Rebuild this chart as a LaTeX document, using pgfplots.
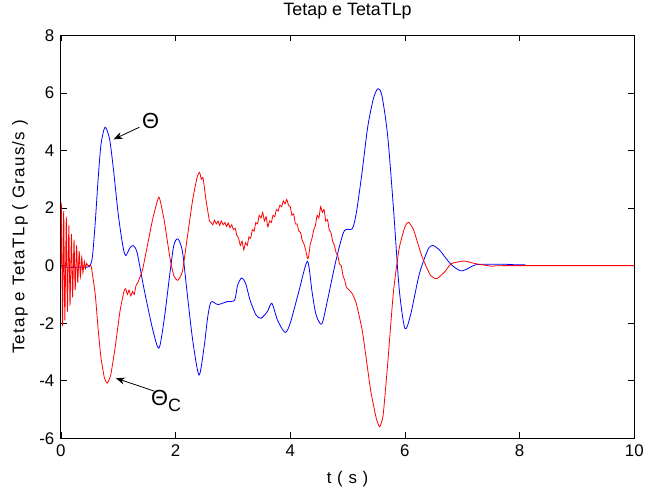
\documentclass[border=0pt]{standalone}
\usepackage{fontspec}
\setmainfont{Liberation Sans}
\usepackage{pgfplots}
\pgfplotsset{compat=1.18}
\usetikzlibrary{calc,arrows.meta}

\begin{document}
\begin{tikzpicture}
\begin{axis}[
    name=ax,
    scale only axis,
    width=575bp, height=404bp,
    xmin=0, xmax=10, ymin=-6, ymax=8,
    xtick={0,2,...,10}, ytick={-6,-4,...,8},
    tick align=inside,
    major tick length=6bp,
    tick style={black, line width=0.6bp},
    axis line style={black, line width=0.8bp},
    tick label style={font=\fontsize{17}{19}\selectfont},
    xticklabel style={yshift=-3bp},
    yticklabel style={xshift=-3bp},
    /pgf/number format/assume math mode=true,
    title={Tetap e TetaTLp},
    title style={font=\fontsize{18}{20}\selectfont, at={(axis description cs:0.5,1.045)}, anchor=center},
    xlabel={t ( s )},
    xlabel style={font=\fontsize{17}{19}\selectfont\addfontfeature{LetterSpace=6}, at={(axis description cs:0.5,-0.101)}, anchor=center},
    ylabel={Tetap e TetaTLp ( Graus/s )},
    ylabel style={font=\fontsize{17}{19}\selectfont\addfontfeature{LetterSpace=8}, at={(axis description cs:-0.0713,0.5)}, anchor=center, rotate=0},
    clip=true,
]
% Theta (blue)
\addplot[blue, line width=0.8bp, smooth, tension=0.45] coordinates {
(0,-0.05) (0.2,-0.06) (0.4,-0.05) (0.5,-0.03) (0.55,0.3) (0.6,1.5) (0.65,3.0)
(0.7,4.2) (0.77,4.81) (0.85,4.4) (0.92,3.3) (1.0,1.8) (1.08,0.7) (1.13,0.35)
(1.2,0.6) (1.26,0.70) (1.33,0.45) (1.45,-0.8) (1.6,-2.2) (1.71,-2.87)
(1.8,-1.9) (1.9,-0.3) (1.97,0.7) (2.04,0.93) (2.12,0.5) (2.2,-0.9)
(2.3,-2.6) (2.41,-3.8) (2.5,-2.8) (2.56,-1.8) (2.62,-1.26) (2.74,-1.35)
(2.9,-1.25) (3.03,-1.2) (3.08,-0.7) (3.15,-0.43) (3.22,-0.6) (3.3,-1.2)
(3.4,-1.7) (3.49,-1.83) (3.6,-1.6) (3.68,-1.31) (3.78,-1.9) (3.91,-2.32)
(4.0,-2.0) (4.15,-0.9) (4.30,0.15) (4.38,-0.9) (4.45,-1.7) (4.55,-2.03)
(4.65,-1.2) (4.8,0.2) (4.94,1.2) (5.08,1.28) (5.15,1.8) (5.25,3.2)
(5.35,4.8) (5.45,5.8) (5.53,6.15) (5.6,5.9) (5.7,4.5) (5.8,2.0)
(5.9,-0.8) (6.0,-2.18) (6.1,-1.7) (6.25,-0.3) (6.4,0.55) (6.48,0.70)
(6.6,0.55) (6.8,0.05) (6.97,-0.18) (7.1,-0.1) (7.23,0.03) (7.5,0.05)
(7.72,0.05) (7.94,0.03) (8.1,0.03)
};
% Theta_C (red)
\addplot[red, line width=0.8bp, smooth, tension=0.3] coordinates {
(0,0) (0.01,2.1) (0.03,-2.1) (0.05,1.9) (0.07,-1.9) (0.095,1.7) (0.115,-1.6)
(0.14,1.4) (0.16,-1.4) (0.185,1.1) (0.205,-1.1) (0.23,0.9) (0.25,-0.85)
(0.275,0.7) (0.295,-0.6) (0.32,0.5) (0.34,-0.4) (0.365,0.3) (0.385,-0.25)
(0.41,0.15) (0.43,-0.1) (0.45,0.08) (0.47,0.0) (0.5,0.0) (0.53,-0.03)
(0.6,-1.0) (0.65,-2.2) (0.7,-3.2) (0.76,-3.9) (0.81,-4.08) (0.87,-3.8)
(0.95,-2.8) (1.03,-1.6) (1.1,-0.9) (1.13,-0.8) (1.16,-1.0) (1.19,-0.85)
(1.22,-1.05) (1.25,-0.9) (1.28,-1.0) (1.31,-0.7) (1.34,-0.6) (1.37,-0.45)
(1.4,-0.3) (1.43,-0.1) (1.5,0.6) (1.6,1.6) (1.71,2.38) (1.8,1.6)
(1.9,0.3) (1.97,-0.35) (2.04,-0.51) (2.12,-0.2) (2.2,0.9) (2.3,2.3)
(2.38,3.1) (2.42,3.24) (2.45,3.0) (2.48,3.05) (2.53,2.3) (2.59,1.57)
(2.62,1.50) (2.65,1.42) (2.68,1.58) (2.71,1.45) (2.74,1.55) (2.77,1.40)
(2.80,1.55) (2.83,1.42) (2.86,1.50) (2.89,1.36) (2.92,1.48) (2.95,1.32)
(2.98,1.42) (3.01,1.25) (3.04,1.30) (3.07,1.05) (3.10,0.95) (3.13,0.70)
(3.16,0.85) (3.19,0.55) (3.22,0.80) (3.25,0.70) (3.28,1.00) (3.31,0.95)
(3.34,1.25) (3.37,1.20) (3.40,1.50) (3.43,1.45) (3.46,1.75) (3.49,1.65)
(3.52,1.85) (3.55,1.55) (3.58,1.70) (3.61,1.35) (3.64,1.55) (3.67,1.50)
(3.70,1.75) (3.73,1.70) (3.76,1.95) (3.79,1.90) (3.82,2.10) (3.85,2.05)
(3.88,2.25) (3.91,2.15) (3.94,2.30) (3.97,2.10) (4.00,2.05) (4.03,1.75)
(4.06,1.80) (4.09,1.45) (4.12,1.45) (4.15,1.20) (4.18,1.15) (4.21,0.88)
(4.24,0.75) (4.27,0.55) (4.30,0.25) (4.32,0.30) (4.35,0.75) (4.38,0.95)
(4.41,1.25) (4.44,1.40) (4.47,1.75) (4.50,1.65) (4.53,2.05) (4.56,1.85)
(4.59,1.95) (4.62,1.55) (4.65,1.60) (4.68,1.25) (4.71,1.15) (4.74,0.85)
(4.77,0.70) (4.80,0.45) (4.83,0.35) (4.86,0.05) (4.89,0.00) (4.92,-0.35)
(4.95,-0.50) (4.98,-0.75) (5.03,-0.85) (5.08,-0.97) (5.15,-1.3)
(5.26,-2.3) (5.4,-4.3) (5.5,-5.3) (5.56,-5.6) (5.62,-5.2) (5.7,-3.4)
(5.8,-0.9) (5.9,0.6) (6.0,1.35) (6.06,1.51) (6.15,1.25) (6.3,0.3)
(6.45,-0.35) (6.56,-0.45) (6.7,-0.2) (6.81,0.07) (7.03,0.16) (7.23,0.07)
(7.52,-0.02) (7.7,0) (10,0)
};
\draw[-{Stealth[length=9bp,width=7bp]}, line width=0.8bp] (axis cs:1.37,4.81) -- (axis cs:0.92,4.39);
\node[anchor=center, font=\fontsize{22}{24}\selectfont, inner sep=0pt] at (axis cs:1.565,5.02) {Θ};
\draw[-{Stealth[length=9bp,width=7bp]}, line width=0.8bp] (axis cs:1.63,-4.36) -- (axis cs:0.96,-3.91);
\node[anchor=west, font=\fontsize{22}{24}\selectfont, inner sep=0pt] at (axis cs:1.57,-4.71) {Θ\raisebox{-6bp}{\fontsize{18}{20}\selectfont C}};
\end{axis}
\useasboundingbox ($(ax.south west)+(-61bp,-56bp)$) rectangle ($(ax.north east)+(11bp,33bp)$);
\end{tikzpicture}
\end{document}
